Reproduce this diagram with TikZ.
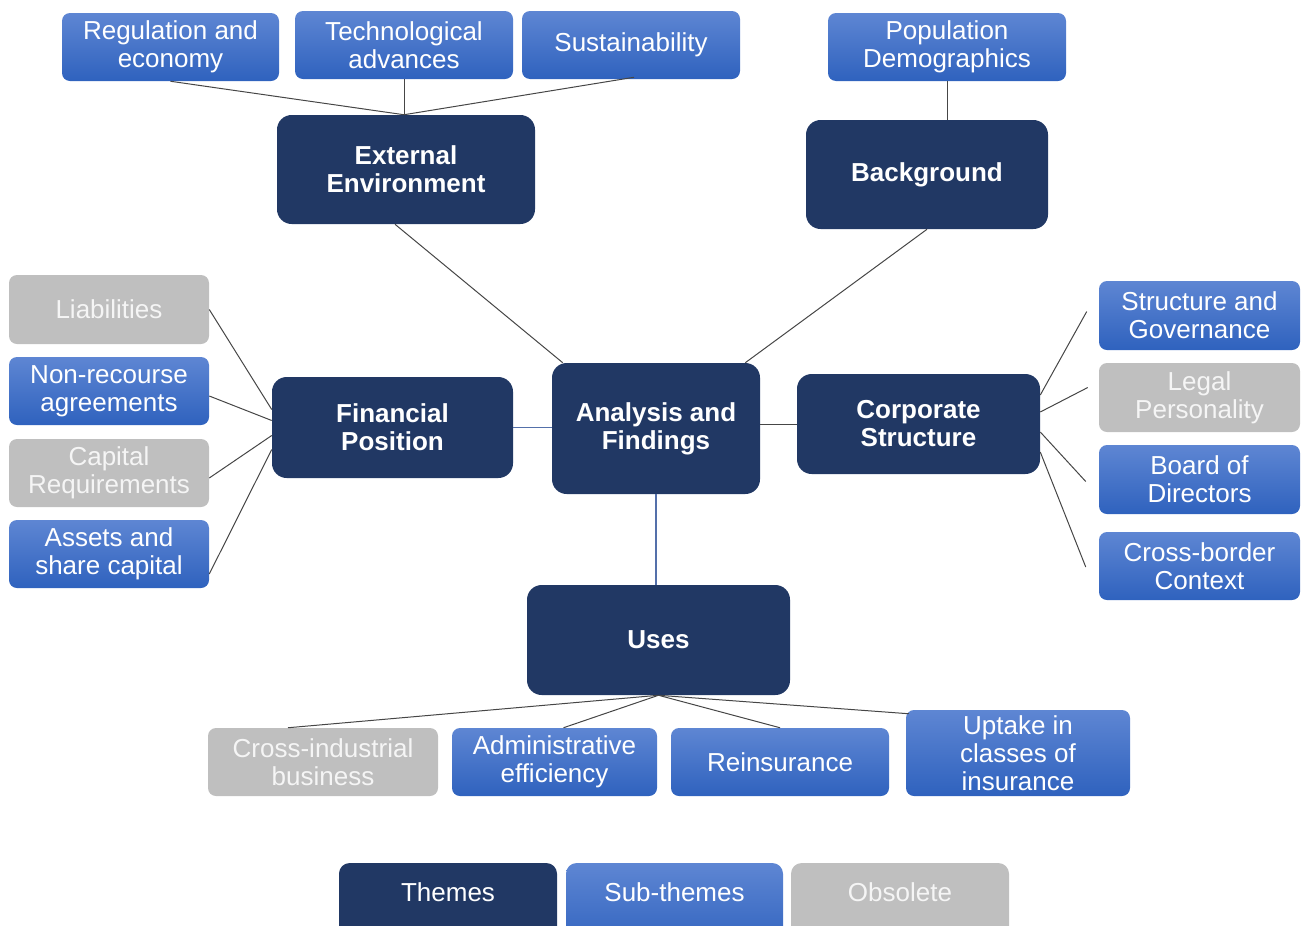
\documentclass[tikz,border=0pt]{standalone}
\usepackage{fontspec}
\setmainfont{Liberation Sans}
\usetikzlibrary{calc}
\definecolor{navy}{RGB}{33,56,100}
\definecolor{subtop}{RGB}{94,134,211}
\definecolor{subbot}{RGB}{47,98,190}
\definecolor{obs}{RGB}{191,191,191}
\definecolor{linkgray}{RGB}{70,70,70}
\definecolor{linkblue}{RGB}{84,112,170}

\begin{document}
\begin{tikzpicture}[x=0.75pt,y=-0.75pt,
  base/.style={rectangle, text=white, align=center, inner sep=0pt,
    font=\fontsize{19.5}{21}\selectfont},
  theme/.style 2 args={base, fill=navy, rounded corners=11pt,
    minimum width=#1*0.75pt, minimum height=#2*0.75pt,
    font=\fontsize{19.5}{21}\selectfont\bfseries},
  sub/.style 2 args={base, top color=subtop, bottom color=subbot, rounded corners=6pt,
    minimum width=#1*0.75pt, minimum height=#2*0.75pt},
  obsolete/.style 2 args={base, fill=obs, text=white!96!black, rounded corners=6pt,
    minimum width=#1*0.75pt, minimum height=#2*0.75pt},
  link/.style={draw=linkgray, line width=0.75pt},
  bluelink/.style={draw=linkblue, line width=0.9pt}]

\useasboundingbox (0,0) rectangle (1308,925);
\clip (0,0) rectangle (1308,925);

% themes
\node[theme={258}{109}] (ext) at (406,169.5) {External\\Environment};
\node[theme={242}{109}] (bg) at (927,174.5) {Background};
\node[theme={241}{101}] (fin) at (392.5,427.5) {Financial\\Position};
\node[theme={208}{131}] (ana) at (656,428.5) {Analysis and\\Findings};
\node[theme={243}{100}] (corp) at (918.5,424) {Corporate\\Structure};
\node[theme={263}{110}] (uses) at (658.5,640) {Uses};

% sub-themes around External Environment and Background
\node[sub={217}{68}] (reg) at (170.5,47) {Regulation and\\economy};
\node[sub={218}{68}] (tech) at (404,45) {Technological\\advances};
\node[sub={218}{68}] (sus) at (631,45) {Sustainability};
\node[sub={238}{68}] (pop) at (947,47) {Population\\Demographics};

% Financial Position
\node[obsolete={200}{69}] (liab) at (109,309.5) {Liabilities};
\node[sub={200}{68}] (nonrec) at (109,391) {Non-recourse\\agreements};
\node[obsolete={200}{68}] (capreq) at (109,473) {Capital\\Requirements};
\node[sub={200}{68}] (assets) at (109,554) {Assets and\\share capital};

% Corporate Structure
\node[sub={201}{69}] (sg) at (1199.5,315.5) {Structure and\\Governance};
\node[obsolete={201}{69}] (lp) at (1199.5,397.5) {Legal\\Personality};
\node[sub={201}{69}] (bod) at (1199.5,479.5) {Board of\\Directors};
\node[sub={201}{68}] (cbc) at (1199.5,566) {Cross-border\\Context};

% Uses
\node[obsolete={230}{68}] (cib) at (323,762) {Cross-industrial\\business};
\node[sub={205}{68}] (adm) at (554.5,762) {Administrative\\efficiency};
\node[sub={218}{68}] (rei) at (780,762) {Reinsurance};
\node[sub={224}{86}] (upt) at (1018,753) {Uptake in\\classes of\\insurance};

% connectors
\coordinate (extTop) at (tech.south |- ext.north);
\draw[link] (reg.south) -- (extTop);
\draw[link] (tech.south) -- (extTop);
\draw[link] ($(sus.south)+(3,-2)$) -- (extTop);
\draw[link] (pop.south) -- (pop.south |- bg.north);

\draw[link] ($(ext.south)+(-11,0)$) -- ($(ana.north west)+(11,0)$);
\draw[link] (bg.south) -- ($(ana.north east)+(-15,0)$);
\draw[bluelink] (fin.east) -- (fin.east -| ana.west);
\draw[link] (ana.east |- corp.west) -- (corp.west);
\draw[bluelink] (ana.south) -- (ana.south |- uses.north);

\draw[link] (liab.east) -- ($(fin.west)+(0,-18)$);
\draw[link] ($(nonrec.east)+(0,5)$) -- ($(fin.west)+(0,-7)$);
\draw[link] ($(capreq.east)+(0,5)$) -- ($(fin.west)+(0,8)$);
\draw[link] ($(assets.east)+(0,20)$) -- ($(fin.west)+(0,22)$);

\draw[link] ($(corp.east)+(0,-29)$) -- ($(sg.west)+(-12,-4)$);
\draw[link] ($(corp.east)+(0,-12)$) -- ($(lp.west)+(-11,-10)$);
\draw[link] ($(corp.east)+(0,8)$) -- ($(bod.west)+(-13,2)$);
\draw[link] ($(corp.east)+(0,28)$) -- ($(cbc.west)+(-13,1)$);

\draw[link] (uses.south) -- ($(cib.north)+(-35,0)$);
\draw[link] (uses.south) -- ($(adm.north)+(9,0)$);
\draw[link] (uses.south) -- (rei.north);
\draw[link] (uses.south) -- ($(upt.north west)+(3,4)$);

% legend (runs off the lower edge)
\path[fill=navy, rounded corners=8pt] (339,863) rectangle (557,950);
\path[top color=subtop, bottom color=subbot, rounded corners=8pt] (566,863) rectangle (783,950);
\path[fill=obs, rounded corners=8pt] (791,863) rectangle (1009,950);
\node[base] (lgtheme) at (448,892) {Themes};
\node[base] (lgsub) at (674.5,892) {Sub-themes};
\node[base, text=white!96!black] (lgobs) at (900,892) {Obsolete};
\end{tikzpicture}
\end{document}
